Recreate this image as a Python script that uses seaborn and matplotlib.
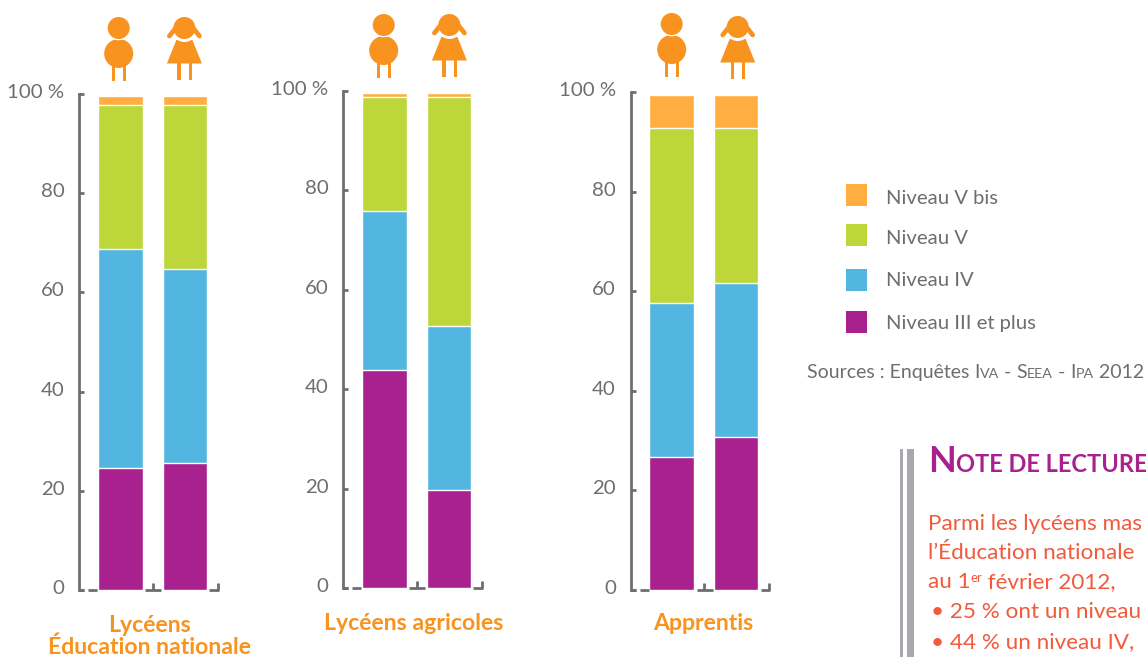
import numpy as np
import pandas as pd
import seaborn as sns
import matplotlib
matplotlib.use("Agg")
import matplotlib.pyplot as plt
from matplotlib.patches import Circle, Ellipse, Polygon, Rectangle
from matplotlib.transforms import ScaledTranslation

sns.set_theme(style="white")
plt.rcParams['font.family'] = ['Lato', 'DejaVu Sans']

# ---------- data ----------
groups = ["Garçons", "Filles"]
levels = ["Niveau III et plus", "Niveau IV", "Niveau V", "Niveau V bis"]
panel_titles = ["Lycéens\nÉducation nationale", "Lycéens agricoles", "Apprentis"]
ticks_values = [0, 20, 40, 60, 80, 100]
tick_labels = ["0", "20", "40", "60", "80", "100 %"]
colors = ["#A8218E", "#53B6E1", "#BDD63A", "#FFAE3F"]

lycee_en = {"Garçons": [24.6, 44.1, 29.0, 1.8], "Filles": [25.7, 39.0, 33.0, 1.8]}
lycee_agri = {"Garçons": [43.8, 32.0, 23.0, 0.8], "Filles": [19.8, 33.0, 46.0, 0.8]}
apprentis = {"Garçons": [26.7, 31.0, 35.0, 6.7], "Filles": [30.7, 31.0, 31.0, 6.7]}
panels_data = [lycee_en, lycee_agri, apprentis]

legend_labels = ["Niveau V bis", "Niveau V", "Niveau IV", "Niveau III et plus"]
legend_colors = ["#FFAE3F", "#BDD63A", "#53B6E1", "#A8218E"]

W, H = 1146, 657
GREY = "#6D6E71"
TXT = "#6D6E71"
ORANGE = "#F7931E"
fig = plt.figure(figsize=(W / 100, H / 100), dpi=100, facecolor="white")

# (axis x, y of 0, y of 100, centre of first bar, pitch)
geom = [(79, 590, 94, 120.7, 64.5), (343, 588, 91, 384.7, 64.5), (630.5, 590, 92, 671.7, 64.5)]
title_y = [(625, 647), (624, ), (624, )]
title_x = [150, 414, 703.7]

for data, (ax_x, y0, y100, c0, pitch), tname, ty, tx in zip(panels_data, geom, panel_titles, title_y, title_x):
    right = ax_x + 139
    ax = fig.add_axes([ax_x / W, 1 - y0 / H, (right - ax_x) / W, (y0 - y100) / H])
    df = pd.DataFrame(data, index=levels).T
    cum = df.cumsum(axis=1)
    # stacked bars: drawn from the tallest cumulative level to the lowest
    for lev, col in zip(levels[::-1], colors[::-1]):
        sns.barplot(x=groups, y=cum[lev].values, color=col, width=0.69, ax=ax,
                    saturation=1, edgecolor="white", linewidth=1.0, order=groups)
    x_left = (ax_x - c0) / pitch
    x_right = (right - c0) / pitch
    ax.set_xlim(x_left, x_right)
    ax.set_ylim(0, 100)
    ax.set_facecolor("none")
    for s in ["top", "right", "bottom"]:
        ax.spines[s].set_visible(False)
    ax.spines["left"].set_color(GREY)
    ax.spines["left"].set_linewidth(2.0)
    ax.set_yticks(ticks_values)
    ax.set_yticklabels(tick_labels)
    ax.tick_params(axis="y", direction="in", left=True, length=3.5, width=2, color=GREY,
                   labelsize=14.7, labelcolor=TXT, pad=10.5)
    shift = ScaledTranslation(0, 2.2 / 72, fig.dpi_scale_trans)
    for lab in ax.get_yticklabels():
        lab.set_transform(lab.get_transform() + shift)
    ax.set_xticks([0.5, x_right - 0.5 / pitch])
    ax.set_xticklabels([])
    ax.tick_params(axis="x", direction="in", length=5, width=2, color=GREY, bottom=True)
    ax.set_xlabel("")
    ax.set_ylabel("")
    # broken baseline
    px = lambda p: (p - c0) / pitch
    kw = dict(color=GREY, lw=2, clip_on=False, solid_capstyle="butt", zorder=5)
    for a, b in [(ax_x, ax_x + 5), (ax_x + 9, ax_x + 18), (ax_x + 66, ax_x + 82), (ax_x + 130, ax_x + 139.5)]:
        ax.plot([px(a), px(b)], [0, 0], **kw)

    lines = tname.split("\n")
    for ln, yy in zip(lines, ty):
        fig.text(tx / W, 1 - yy / H, ln, ha="center", va="center", color=ORANGE,
                 fontsize=16.6, fontweight="bold")

# ---------- overlay in pixel coordinates ----------
ov = fig.add_axes([0, 0, 1, 1], zorder=-1)
ov.set_xlim(0, W)
ov.set_ylim(H, 0)
ov.axis("off")


def boy(cx, top):
    ov.add_patch(Ellipse((cx, top + 36.5), 29, 29, fc=ORANGE, ec="none"))
    ov.add_patch(Circle((cx, top + 11), 12.3, fc="white", ec="none"))
    ov.add_patch(Circle((cx, top + 11), 11, fc=ORANGE, ec="none"))
    for dx in (-7, 4):
        ov.add_patch(Rectangle((cx + dx, top + 46), 3.5, 18, fc=ORANGE, ec="none"))


def girl(cx, top):
    ov.add_patch(Polygon([(cx - 8, top + 23), (cx + 8, top + 23), (cx + 17.5, top + 46.5), (cx - 17.5, top + 46.5)],
                         fc=ORANGE, ec="none"))
    ov.add_patch(Circle((cx, top + 12), 13, fc="white", ec="none"))
    ov.add_patch(Circle((cx, top + 11), 11, fc=ORANGE, ec="none"))
    for sgn in (-1, 1):
        ov.plot([cx + sgn * 9.5, cx + sgn * 15], [top + 12, top + 19], color=ORANGE, lw=3.4,
                solid_capstyle="round")
    for dx in (-7, 4.2):
        ov.add_patch(Rectangle((cx + dx, top + 46), 3.4, 16.5, fc=ORANGE, ec="none"))


for bx, by, gx, gy in [(118.7, 17, 184.4, 17), (383.7, 14, 449.4, 14), (671.7, 13, 737.7, 16)]:
    boy(bx, by)
    girl(gx, gy)

# legend
for lab, col, yy, ty in zip(legend_labels, legend_colors, [194.5, 234.5, 279.5, 322], [198, 238, 280, 323]):
    ov.add_patch(Rectangle((846, yy - 11), 21, 22.3, fc=col, ec="none"))
    ov.text(885.5, ty, lab, color=TXT, fontsize=14.6, va="center", ha="left")


def runs(x, y, parts, color, **kw):
    """Write successive text runs on one baseline (small caps, superscripts)."""
    r = fig.canvas.get_renderer()
    for s, size, dy in parts:
        t = ov.text(x, y + dy, s, color=color, fontsize=size, va="baseline", ha="left", **kw)
        x = t.get_window_extent(r).x1


runs(807, 378, [("Sources : Enquêtes ", 14, 0), ("I", 14, 0), ("VA", 10.3, 0), (" - ", 14, 0), ("S", 14, 0),
                ("EEA", 10.3, 0), (" - ", 14, 0), ("I", 14, 0), ("PA", 10.3, 0), (" 2012", 14, 0)],
     TXT)

# note block
ov.add_patch(Rectangle((900, 449), 2.5, H - 449, fc="#A7A9AC", ec="none"))
ov.add_patch(Rectangle((907, 449), 7, H - 449, fc="#A7A9AC", ec="none"))
runs(928.5, 472, [("N", 26, 0), ("OTE DE LECTURE", 17, 0)], "#A8218E", fontweight="bold")
RED = "#F15A3C"
runs(928, 530, [("Parmi les lycéens mas", 16.2, 0)], RED)
runs(928, 559, [("l’Éducation nationale", 16.2, 0)], RED)
runs(928, 588, [("au 1", 16.2, 0), ("er", 9.5, -6), (" février 2012,", 16.2, 0)], RED)
runs(931, 618, [("• 25 % ont un niveau", 16.2, 0)], RED)
runs(931, 648, [("• 44 % un niveau IV,", 16.2, 0)], RED)

fig.savefig("out.png", dpi=100, facecolor="white")
